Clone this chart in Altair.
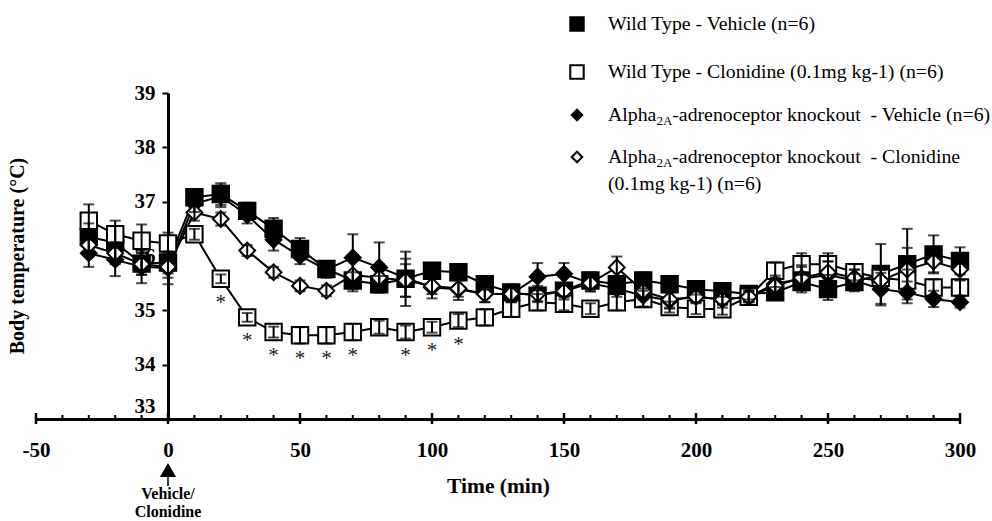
import altair as alt
import pandas as pd

times = [-30, -20, -10, 0, 10, 20, 30, 40, 50, 60, 70, 80, 90, 100, 110, 120, 130, 140,
         150, 160, 170, 180, 190, 200, 210, 220, 230, 240, 250, 260, 270, 280, 290, 300]

wt_veh = [36.35, 36.25, 35.86, 35.88, 37.08, 37.14, 36.83, 36.50, 36.13, 35.76,
          35.55, 35.48, 35.58, 35.73, 35.70, 35.48, 35.33, 35.27, 35.36, 35.55,
          35.48, 35.55, 35.48, 35.39, 35.35, 35.30, 35.33, 35.52, 35.39, 35.52,
          35.67, 35.85, 36.03, 35.91]
wt_veh_err = [0.25, 0.3, 0.2, 0.2, 0.15, 0.2, 0.15, 0.2, 0.2, 0.1,
              0.15, 0.15, 0.5, 0.1, 0.1, 0.1, 0.15, 0.1, 0.1, 0.15,
              0.1, 0.15, 0.1, 0.1, 0.1, 0.1, 0.1, 0.15, 0.2, 0.15,
              0.55, 0.65, 0.35, 0.25]

wt_clo = [36.65, 36.40, 36.28, 36.23, 36.40, 35.58, 34.87, 34.60, 34.54, 34.54,
          34.60, 34.69, 34.60, 34.69, 34.81, 34.87, 35.03, 35.15, 35.12, 35.03,
          35.15, 35.21, 35.06, 35.03, 35.02, 35.25, 35.73, 35.85, 35.85, 35.70,
          35.60, 35.55, 35.42, 35.42]
wt_clo_err = [0.3, 0.25, 0.3, 0.2, 0.1, 0.08, 0.08, 0.1, 0.15, 0.15,
              0.15, 0.12, 0.12, 0.1, 0.12, 0.15, 0.15, 0.15, 0.12, 0.1,
              0.15, 0.15, 0.1, 0.1, 0.1, 0.1, 0.15, 0.2, 0.2, 0.15,
              0.15, 0.2, 0.15, 0.15]

ko_veh = [36.05, 35.93, 35.80, 35.78, 36.96, 37.10, 36.75, 36.30, 36.00, 35.75,
          35.97, 35.79, 35.60, 35.42, 35.39, 35.30, 35.30, 35.62, 35.67, 35.50,
          35.40, 35.27, 35.18, 35.25, 35.20, 35.25, 35.49, 35.58, 35.65, 35.55,
          35.39, 35.33, 35.21, 35.15]
ko_veh_err = [0.25, 0.3, 0.3, 0.3, 0.15, 0.2, 0.15, 0.2, 0.15, 0.15,
              0.43, 0.46, 0.35, 0.2, 0.2, 0.15, 0.15, 0.25, 0.2, 0.15,
              0.15, 0.2, 0.15, 0.1, 0.15, 0.1, 0.15, 0.25, 0.25, 0.2,
              0.3, 0.2, 0.15, 0.1]

ko_clo = [36.20, 36.05, 35.85, 35.80, 36.80, 36.68, 36.10, 35.70, 35.45, 35.36,
          35.65, 35.60, 35.55, 35.45, 35.40, 35.30, 35.30, 35.30, 35.35, 35.50,
          35.79, 35.35, 35.20, 35.25, 35.20, 35.25, 35.45, 35.60, 35.70, 35.60,
          35.55, 35.75, 35.90, 35.75]
ko_clo_err = [0.2, 0.2, 0.2, 0.2, 0.15, 0.12, 0.1, 0.1, 0.1, 0.1,
              0.3, 0.25, 0.3, 0.15, 0.15, 0.15, 0.15, 0.15, 0.15, 0.15,
              0.2, 0.15, 0.15, 0.1, 0.1, 0.1, 0.15, 0.2, 0.2, 0.15,
              0.2, 0.4, 0.2, 0.2]

star_times = [20, 30, 40, 50, 60, 70, 90, 100, 110]
x_major = [-50, 0, 50, 100, 150, 200, 250, 300]
x_minor = list(range(-50, 301, 10))
y_ticks = [33, 34, 35, 36, 37, 38, 39]

series = [
    ("WT_veh", wt_veh, wt_veh_err, "square", True),
    ("WT_clo", wt_clo, wt_clo_err, "square", False),
    ("KO_veh", ko_veh, ko_veh_err, "diamond", True),
    ("KO_clo", ko_clo, ko_clo_err, "diamond", False),
]

rows = []
for name, vals, errs, shp, filled in series:
    for t, v, e in zip(times, vals, errs):
        rows.append({"time": t, "value": v, "lo": v - e, "hi": v + e, "series": name})
df = pd.DataFrame(rows)

W, H = 924, 326
SERIF = "Liberation Serif"

xs = alt.Scale(domain=[-50, 300], nice=False, zero=False)
ys = alt.Scale(domain=[33, 39], nice=False, zero=False)

X = alt.X("time:Q", scale=xs, axis=alt.Axis(
    values=x_major, ticks=False, grid=False, domainWidth=3, domainColor="black",
    labelExpr="'' + datum.value",
    labelFont=SERIF, labelFontWeight="bold", labelFontSize=21, labelColor="black",
    labelPadding=20, labelFlush=False,
    title="Time (min)", titleFont=SERIF, titleFontWeight="bold", titleFontSize=21.5,
    titleColor="black", titlePadding=15))
Y = alt.Y("value:Q", scale=ys, axis=alt.Axis(
    values=y_ticks, grid=False, offset=-132, domainWidth=3, domainColor="black",
    tickSize=6, tickWidth=2, tickColor="black",
    labelExpr="'' + datum.value",
    labelFont=SERIF, labelFontWeight="bold", labelFontSize=21, labelColor="black",
    labelPadding=7,
    labelOffset={"condition": {"test": "datum.value == 33", "value": -13}, "value": 0},
    title=None))

base = alt.Chart(df)

lines = base.mark_line(color="black", strokeWidth=2).encode(x=X, y=Y, detail="series:N")

layers = [lines]
for name, vals, errs, shp, filled in series:
    sub = base.transform_filter(alt.datum.series == name)
    pts = sub.mark_point(shape=shp, size=270 if shp == "square" else 250,
                         filled=True, fill="black" if filled else "white",
                         stroke="black", strokeWidth=2, opacity=1).encode(
        x=alt.X("time:Q", scale=xs), y=alt.Y("value:Q", scale=ys))
    layers.append(pts)

err_rule = base.mark_rule(color="black", strokeWidth=2).encode(
    x=alt.X("time:Q", scale=xs), y=alt.Y("lo:Q", scale=ys), y2="hi:Q")
cap_lo = base.mark_tick(color="black", thickness=2, size=11, orient="horizontal").encode(
    x=alt.X("time:Q", scale=xs), y=alt.Y("lo:Q", scale=ys))
cap_hi = base.mark_tick(color="black", thickness=2, size=11, orient="horizontal").encode(
    x=alt.X("time:Q", scale=xs), y=alt.Y("hi:Q", scale=ys))
layers += [err_rule, cap_lo, cap_hi]

# significance stars
star_df = df[(df.series == "WT_clo") & (df.time.isin(star_times))]
stars = alt.Chart(star_df).mark_text(text="*", font=SERIF, fontSize=21, color="#222222",
                                     baseline="middle", dy=24).encode(
    x=alt.X("time:Q", scale=xs), y=alt.Y("value:Q", scale=ys))
layers.append(stars)

# x axis ticks
minor_df = pd.DataFrame({"t": x_minor})
major_df = pd.DataFrame({"t": x_major})
minor = alt.Chart(minor_df).mark_rule(color="black", strokeWidth=2).encode(
    x=alt.X("t:Q", scale=xs), y=alt.value(H - 4), y2=alt.value(H))
major = alt.Chart(major_df).mark_rule(color="black", strokeWidth=2.5).encode(
    x=alt.X("t:Q", scale=xs), y=alt.value(H - 6), y2=alt.value(H + 5))
layers += [minor, major]

one = pd.DataFrame({"a": [0]})

# y title
ytitle = alt.Chart(one).mark_text(text="Body temperature (°C)", font=SERIF, fontWeight="bold",
                                  fontSize=20, angle=270, color="black",
                                  baseline="middle", align="center").encode(
    x=alt.value(-18), y=alt.value(H / 2))
layers.append(ytitle)

# dosing arrow
arrow_head = alt.Chart(one).mark_point(shape="triangle-up", filled=True, color="black",
                                       size=260, opacity=1).encode(
    x=alt.datum(0, scale=xs), y=alt.value(H + 51))
arrow_stem = alt.Chart(one).mark_rule(color="black", strokeWidth=1.5).encode(
    x=alt.datum(0, scale=xs), y=alt.value(H + 56), y2=alt.value(H + 67))
veh_txt = alt.Chart(one).mark_text(text="Vehicle/", font=SERIF, fontWeight="bold",
                                   fontSize=16, color="black", align="center",
                                   baseline="middle").encode(
    x=alt.datum(0, scale=xs), y=alt.value(H + 75))
clo_txt = alt.Chart(one).mark_text(text="Clonidine", font=SERIF, fontWeight="bold",
                                   fontSize=16, color="black", align="center",
                                   baseline="middle").encode(
    x=alt.datum(0, scale=xs), y=alt.value(H + 93))
layers += [arrow_head, arrow_stem, veh_txt, clo_txt]

# legend
LX_SYM = 541
LX_TXT = 572
FS = 19.8
leg_items = [
    ("square", True, -69, "Wild Type - Vehicle (n=6)"),
    ("square", False, -21, "Wild Type - Clonidine (0.1mg kg-1) (n=6)"),
    ("diamond", True, 22, None),
    ("diamond", False, 64, None),
]
for shp, filled, yy, txt in leg_items:
    sym = alt.Chart(one).mark_point(shape=shp, size=180 if shp == "square" else 110,
                                    filled=True, fill="black" if filled else "white",
                                    stroke="black", strokeWidth=2, opacity=1).encode(
        x=alt.value(LX_SYM), y=alt.value(yy))
    layers.append(sym)
    if txt:
        layers.append(alt.Chart(one).mark_text(text=txt, font=SERIF, fontSize=FS, color="black",
                                               align="left", baseline="middle").encode(
            x=alt.value(LX_TXT), y=alt.value(yy)))

alpha_w = 2.444 * FS
sub_fs = 13
sub_w = 1.222 * sub_fs
NB = "\u00a0"
for yy, rest in [(22, "-adrenoceptor knockout " + NB + "- Vehicle (n=6)"),
                 (64, "-adrenoceptor knockout " + NB + "- Clonidine")]:
    layers.append(alt.Chart(one).mark_text(text="Alpha", font=SERIF, fontSize=FS, color="black",
                                           align="left", baseline="middle").encode(
        x=alt.value(LX_TXT), y=alt.value(yy)))
    layers.append(alt.Chart(one).mark_text(text="2A", font=SERIF, fontSize=sub_fs, color="black",
                                           align="left", baseline="middle").encode(
        x=alt.value(LX_TXT + alpha_w), y=alt.value(yy + 6)))
    layers.append(alt.Chart(one).mark_text(text=rest, font=SERIF, fontSize=FS, color="black",
                                           align="left", baseline="middle").encode(
        x=alt.value(LX_TXT + alpha_w + sub_w), y=alt.value(yy)))
layers.append(alt.Chart(one).mark_text(text="(0.1mg kg-1) (n=6)", font=SERIF, fontSize=FS,
                                       color="black", align="left", baseline="middle").encode(
    x=alt.value(LX_TXT), y=alt.value(91)))

chart = alt.layer(*layers).properties(
    width=W, height=H,
    background="white",
    autosize=alt.AutoSizeParams(type="none"),
    padding={"left": 36, "top": 93, "right": 32, "bottom": 102},
).configure_view(strokeWidth=0, stroke="transparent")

chart.save("out.html", embed_options={"renderer": "svg", "actions": False})
